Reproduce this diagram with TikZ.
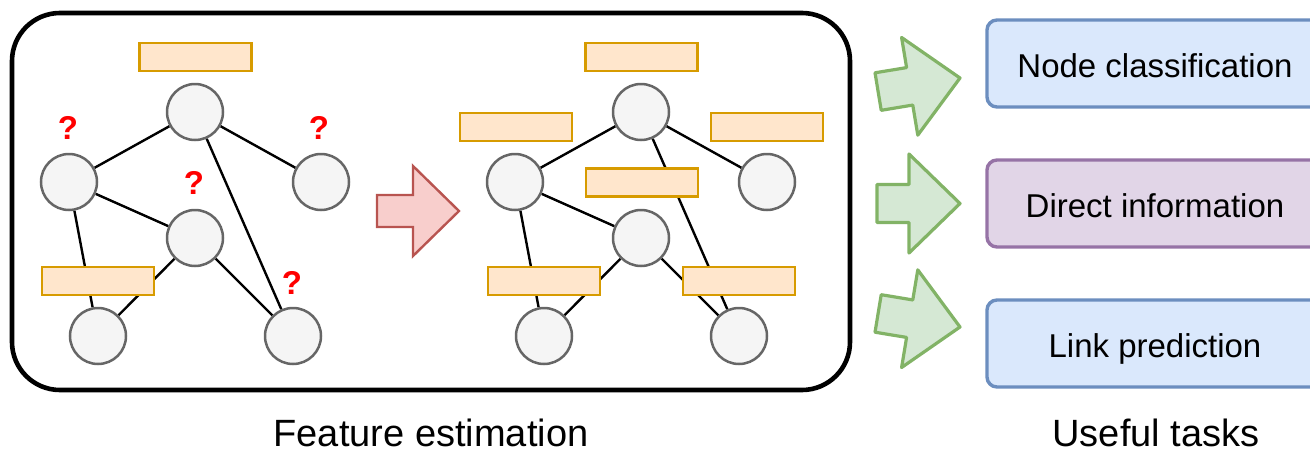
\documentclass[tikz,border=0pt]{standalone}
\usepackage{fontspec}
\setmainfont{Liberation Sans}
\definecolor{circfill}{HTML}{F5F5F5}
\definecolor{circstroke}{HTML}{666666}
\definecolor{orfill}{HTML}{FFE6CC}
\definecolor{orstroke}{HTML}{D79B00}
\definecolor{bluefill}{HTML}{DAE8FC}
\definecolor{bluestroke}{HTML}{6C8EBF}
\definecolor{purpfill}{HTML}{E1D5E7}
\definecolor{purpstroke}{HTML}{9673A6}
\definecolor{grfill}{HTML}{D5E8D4}
\definecolor{grstroke}{HTML}{82B366}
\definecolor{redfill}{HTML}{F8CECC}
\definecolor{redstroke}{HTML}{B85450}
\definecolor{qred}{HTML}{FF0000}
\pgfdeclarelayer{edges}
\pgfdeclarelayer{top}
\pgfsetlayers{edges,main,top}
\begin{document}
\begin{tikzpicture}[x=1pt,y=-1pt,
  gnode/.style={circle, draw=circstroke, fill=circfill, line width=2.5pt, minimum size=56pt, inner sep=0pt},
  fbox/.style={draw=orstroke, fill=orfill, line width=2.2pt, minimum width=112pt, minimum height=28pt, inner sep=0pt},
  edge/.style={line width=2.4pt, black},
  qmark/.style={text=qred, font=\bfseries\fontsize{33}{38}\selectfont, inner sep=0pt},
  tbox/.style={rounded corners=10pt, line width=3.4pt, minimum width=336pt, minimum height=87pt, inner sep=0pt,
     text height=27.5pt, text depth=0pt, font=\fontsize{33}{40}\selectfont},
  caption/.style={anchor=base, font=\fontsize{38}{45}\selectfont, inner sep=0pt},
  garrow/.style={draw=grstroke, fill=grfill, line width=3.2pt, line join=round},
  rarrow/.style={draw=redstroke, fill=redfill, line width=2.4pt, line join=miter}
]
\useasboundingbox (0,0) rectangle (1310,453);
\clip (0,0) rectangle (1310,453);

% outer frame
\draw[line width=4.6pt, rounded corners=48pt] (12,13) rectangle (850,390);

% left graph
\node[gnode] (a1) at (195,112) {};
\node[gnode] (b1) at (69,182) {};
\node[gnode] (c1) at (321,182) {};
\node[gnode] (d1) at (195,238) {};
\node[gnode] (e1) at (98,336) {};
\node[gnode] (f1) at (293,336) {};
% right graph
\node[gnode] (a2) at (641,112) {};
\node[gnode] (b2) at (515,182) {};
\node[gnode] (c2) at (767,182) {};
\node[gnode] (d2) at (641,238) {};
\node[gnode] (e2) at (544,336) {};
\node[gnode] (f2) at (739,336) {};

\begin{pgfonlayer}{edges}
\foreach \g in {1,2}{
  \draw[edge] (a\g) -- (b\g);
  \draw[edge] (a\g) -- (c\g);
  \draw[edge] (a\g) -- (f\g);
  \draw[edge] (b\g) -- (d\g);
  \draw[edge] (b\g) -- (e\g);
  \draw[edge] (d\g) -- (e\g);
  \draw[edge] (d\g) -- (f\g);
}
\end{pgfonlayer}

\begin{pgfonlayer}{top}
% feature boxes
\node[fbox] (fl1) at (195.5,57) {};
\node[fbox] (fl2) at (98,281) {};
\node[fbox] (fr1) at (641.5,57) {};
\node[fbox] (fr2) at (516,127) {};
\node[fbox] (fr3) at (767,127) {};
\node[fbox] (fr4) at (642,182.5) {};
\node[fbox] (fr5) at (544,281) {};
\node[fbox] (fr6) at (739,281) {};
\end{pgfonlayer}

% question marks
\node[qmark] (q1) at (68,128) {?};
\node[qmark] (q2) at (319,128) {?};
\node[qmark] (q3) at (194,183) {?};
\node[qmark] (q4) at (292,283) {?};

% red arrow
\draw[rarrow] (377,195) -- (413,195) -- (413,166) -- (459,211) -- (413,256) -- (413,227) -- (377,227) -- cycle;

% green arrows
\begin{scope}[shift={(960,78)}, rotate=9.4]
  \draw[garrow] (0,0) -- (-51,-49.5) -- (-51,-19) -- (-83,-19) -- (-83,19) -- (-51,19) -- (-51,49.5) -- cycle;
\end{scope}
\begin{scope}[shift={(960,203.5)}]
  \draw[garrow] (0,0) -- (-51,-49.5) -- (-51,-19) -- (-83,-19) -- (-83,19) -- (-51,19) -- (-51,49.5) -- cycle;
\end{scope}
\begin{scope}[shift={(960,327)}, rotate=-9.4]
  \draw[garrow] (0,0) -- (-51,-49.5) -- (-51,-19) -- (-83,-19) -- (-83,19) -- (-51,19) -- (-51,49.5) -- cycle;
\end{scope}

% task boxes
\node[tbox, draw=bluestroke, fill=bluefill] (t1) at (1155,63.5) {Node classification};
\node[tbox, draw=purpstroke, fill=purpfill] (t2) at (1155,203.5) {Direct information};
\node[tbox, draw=bluestroke, fill=bluefill] (t3) at (1155,343.5) {Link prediction};

% captions
\node[caption] (cap1) at (431,446) {Feature estimation};
\node[caption] (cap2) at (1156,446) {Useful tasks};
\end{tikzpicture}
\end{document}
